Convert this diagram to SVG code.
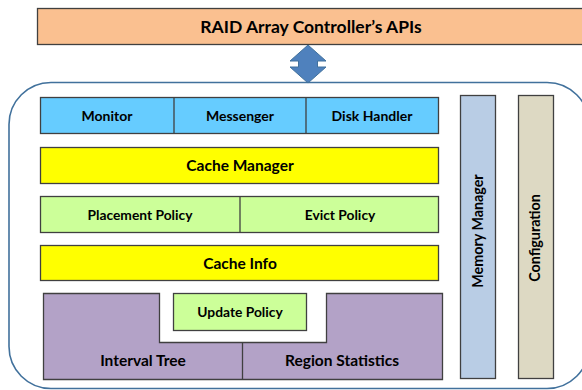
<svg xmlns="http://www.w3.org/2000/svg" width="582" height="390" viewBox="0 0 582 390">
<style>
.b{stroke:#404040;stroke-width:1.3}
.t{font-family:Lato,"Liberation Sans",sans-serif;font-weight:bold;fill:#000;text-anchor:middle}
.s13{font-size:14px}
.s12{font-size:13.8px}
.s15{font-size:15.5px}
.s16{font-size:17.5px}
.sv{font-size:14.3px}
</style>
<rect width="582" height="390" fill="#fff"/>
<g id="apis">
<rect class="b" x="37.5" y="8.5" width="550" height="36" fill="#FAC090"/>
<text class="t s16" x="311" y="32.5">RAID Array Controller’s APIs</text>
</g>
<g id="connectors">
<path d="M308 45 L326 61 L317.5 61 L317.5 67 L326 67 L308 83 L290 67 L298.5 67 L298.5 61 L290 61 Z" fill="#4F81BD" stroke="#41719C" stroke-width="1"/>
</g>
<g id="controller">
<rect x="9" y="82.5" width="580" height="306" rx="42" ry="42" fill="none" stroke="#41719C" stroke-width="1.6"/>
</g>
<g id="top-row">
<rect class="b" x="40.5" y="97.5" width="398" height="36" fill="#66CCFF"/>
<line class="b" x1="174" y1="97.5" x2="174" y2="133.5"/>
<line class="b" x1="306" y1="97.5" x2="306" y2="133.5"/>
<text class="t s13" x="107" y="120.5">Monitor</text>
<text class="t s13" x="240" y="120.5">Messenger</text>
<text class="t s13" x="372" y="120.5">Disk Handler</text>
</g>
<g id="cache-manager">
<rect class="b" x="40.5" y="147.5" width="398" height="36" fill="#FFFF00"/>
<text class="t s15" x="240" y="171">Cache Manager</text>
</g>
<g id="policies">
<rect class="b" x="40.5" y="196.5" width="398" height="36" fill="#CCFF99"/>
<line class="b" x1="240" y1="196.5" x2="240" y2="232.5"/>
<text class="t s12" x="140" y="219.5">Placement Policy</text>
<text class="t s12" x="340" y="219.5">Evict Policy</text>
</g>
<g id="cache-info">
<rect class="b" x="40.5" y="245.5" width="398" height="35" fill="#FFFF00"/>
<text class="t s15" x="240" y="269">Cache Info</text>
</g>
<g id="structures">
<path class="b" d="M43.5 293.5 H159.5 V342.5 H326.5 V293.5 H442.5 V379.5 H43.5 Z" fill="#B3A2C7"/>
<line class="b" x1="242.5" y1="342.5" x2="242.5" y2="379.5"/>
<text class="t s15" x="143" y="366">Interval Tree</text>
<text class="t s15" x="342" y="366">Region Statistics</text>
</g>
<g id="update-policy">
<rect class="b" x="173.5" y="293.5" width="133" height="37" fill="#CCFF99"/>
<text class="t s12" x="240" y="317">Update Policy</text>
</g>
<g id="memory-manager">
<rect class="b" x="460.5" y="95.5" width="35" height="283" fill="#B9CDE5"/>
<text class="t sv" transform="translate(483 231) rotate(-90)">Memory Manager</text>
</g>
<g id="configuration">
<rect class="b" x="518.5" y="95.5" width="35" height="283" fill="#DDD9C3"/>
<text class="t sv" transform="translate(540 238) rotate(-90)">Configuration</text>
</g>
</svg>
